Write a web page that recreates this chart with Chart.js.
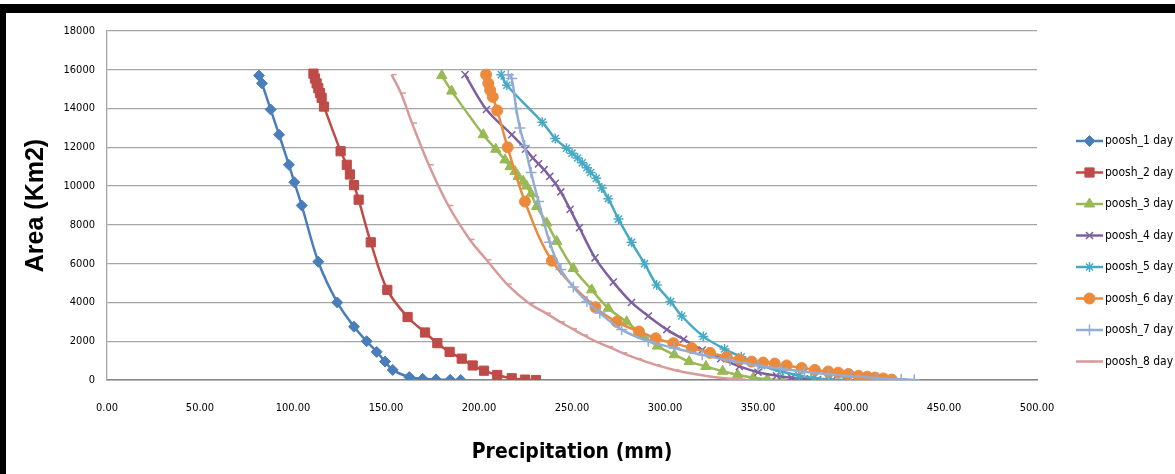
<!DOCTYPE html>
<html>
<head>
<meta charset="utf-8">
<script src="https://cdn.jsdelivr.net/npm/chart.js@4.4.0/dist/chart.umd.min.js"></script>
<style>
  html, body { margin: 0; padding: 0; background: #fff; }
  #wrap { position: relative; width: 1175px; height: 474px; overflow: hidden; }
  #chart { position: absolute; left: 0; top: 0; }
  #frameTop { position: absolute; left: 0; top: 4px; width: 1175px; height: 9px; background: #000; }
  #frameLeft { position: absolute; left: 0; top: 4px; width: 6px; height: 470px; background: #000; }
</style>
</head>
<body>
<div id="wrap">
  <canvas id="chart" width="1175" height="474"></canvas>
  <div id="frameTop"></div>
  <div id="frameLeft"></div>
</div>
<script>
// series names
const seriesLabels = ['poosh_1 day', 'poosh_2 day', 'poosh_3 day', 'poosh_4 day',
                      'poosh_5 day', 'poosh_6 day', 'poosh_7 day', 'poosh_8 day']

// precipitation (mm) / area (km2)
const poosh1Precip = [81.7, 83.3, 88.0, 92.5, 97.8, 100.7, 104.7, 113.6, 123.8, 132.8, 139.6, 145.0, 149.5, 153.6, 162.5, 169.7, 176.9, 184.5, 190.2]
const poosh1Area   = [15700, 15300, 13950, 12650, 11100, 10200, 9000, 6100, 4000, 2750, 2000, 1450, 950, 520, 150, 60, 30, 10, 0]

const poosh2Precip = [111.0, 111.8, 112.7, 113.6, 114.5, 115.4, 116.7, 125.6, 128.9, 130.6, 132.8, 135.3, 141.8, 150.7, 161.6, 171.0, 177.6, 184.2, 190.7, 196.6, 202.7, 209.8, 217.6, 224.7, 230.6]
const poosh2Area   = [15800, 15550, 15300, 15050, 14800, 14550, 14100, 11800, 11100, 10600, 10050, 9300, 7100, 4650, 3250, 2450, 1900, 1450, 1100, 750, 480, 260, 90, 20, 0]

const poosh3Precip = [180.0, 185.3, 202.3, 209.0, 214.0, 216.7, 219.4, 221.1, 223.8, 225.6, 228.0, 231.0, 236.4, 241.8, 250.7, 260.6, 269.5, 279.4, 288.0, 296.0, 305.0, 313.0, 322.0, 331.0, 339.0, 347.5, 355.0, 363.0]
const poosh3Area   = [15700, 14900, 12650, 11900, 11350, 11000, 10750, 10500, 10250, 10000, 9600, 8950, 8100, 7150, 5750, 4650, 3700, 3000, 2300, 1750, 1300, 950, 700, 450, 270, 120, 40, 0]

const poosh4Precip = [192.5, 204.0, 217.6, 225.0, 229.0, 232.0, 235.0, 238.0, 241.0, 244.0, 249.0, 254.0, 262.4, 272.2, 282.0, 291.0, 301.0, 310.0, 320.0, 330.0, 340.0, 350.0, 360.0, 368.0, 375.0, 382.0, 390.0]
const poosh4Area   = [15750, 13950, 12650, 11900, 11450, 11150, 10850, 10500, 10150, 9700, 8800, 7850, 6300, 5050, 4000, 3300, 2600, 2100, 1550, 1100, 700, 400, 220, 120, 60, 20, 0]

const poosh5Precip = [212.0, 215.0, 234.0, 241.0, 247.0, 250.0, 253.0, 255.5, 258.0, 260.0, 263.0, 266.0, 269.5, 275.0, 282.0, 289.0, 295.5, 303.0, 309.0, 320.6, 332.0, 341.0, 352.0, 362.0, 372.0, 380.0, 388.0, 397.0]
const poosh5Area   = [15750, 15200, 13300, 12450, 11950, 11700, 11450, 11200, 10950, 10700, 10400, 9900, 9350, 8300, 7100, 6000, 4900, 4050, 3300, 2250, 1600, 1200, 750, 450, 230, 100, 30, 0]

const poosh6Precip = [203.8, 205.0, 206.0, 207.4, 209.8, 215.4, 224.7, 239.2, 262.6, 274.0, 286.0, 295.0, 304.5, 314.4, 324.2, 333.2, 340.0, 346.6, 352.8, 359.0, 365.4, 373.5, 380.6, 387.8, 393.2, 398.6, 404.0, 408.8, 412.9, 417.4, 421.9]
const poosh6Area   = [15750, 15300, 14950, 14600, 13900, 12000, 9200, 6150, 3750, 3000, 2500, 2150, 1900, 1650, 1400, 1200, 1050, 950, 900, 850, 750, 620, 520, 440, 380, 310, 220, 170, 130, 80, 20]

const poosh7Precip = [215.8, 217.6, 220.0, 222.0, 224.5, 228.0, 232.0, 238.0, 244.0, 250.7, 258.0, 265.0, 276.7, 291.0, 305.0, 320.0, 335.0, 350.0, 362.0, 375.0, 388.0, 400.0, 414.0, 427.0, 434.0]
const poosh7Area   = [15750, 15550, 14000, 13000, 12100, 10700, 9200, 7100, 5700, 4800, 4050, 3450, 2600, 2000, 1650, 1300, 1000, 750, 580, 430, 300, 200, 100, 40, 0]

const poosh8Precip = [153.0, 158.0, 164.0, 173.0, 183.5, 195.0, 204.0, 215.0, 227.0, 236.0, 243.5, 250.0, 256.0, 263.0, 269.5, 277.0, 285.0, 295.0, 305.0, 315.0, 325.0, 335.0, 343.0]
const poosh8Area   = [15750, 14800, 13250, 11100, 9000, 7250, 6200, 4950, 3950, 3450, 3000, 2650, 2320, 1980, 1720, 1400, 1100, 780, 520, 320, 170, 70, 20]

// axis ticks
const xTickStep = 50
const yTickStep = 2000

const precipSeries = [poosh1Precip, poosh2Precip, poosh3Precip, poosh4Precip, poosh5Precip, poosh6Precip, poosh7Precip, poosh8Precip]
const areaSeries = [poosh1Area, poosh2Area, poosh3Area, poosh4Area, poosh5Area, poosh6Area, poosh7Area, poosh8Area]

const colors = ['#4A7EBB', '#BE4B48', '#98B954', '#7D60A0', '#46AAC5', '#EC8A3C', '#93ACD4', '#D69A99']
const markers = ['rectRot', 'rect', 'triangle', 'crossRot', 'star', 'circle', 'cross', 'dash']
const markerSize = [5.5, 6.5, 6, 5, 5, 5.5, 5.5, 5]

const narrow = "'Liberation Sans Narrow', 'DejaVu Sans Condensed', 'Arial Narrow', sans-serif"

const datasets = seriesLabels.map((label, i) => {
  const stroked = ['crossRot', 'star', 'cross', 'dash'].includes(markers[i])
  return {
    label: label,
    data: precipSeries[i].map((x, j) => ({x: x, y: areaSeries[i][j]})),
    showLine: true,
    tension: 0.35,
    borderColor: colors[i],
    borderWidth: 2.5,
    backgroundColor: colors[i],
    pointStyle: markers[i],
    pointRadius: markerSize[i],
    pointBackgroundColor: colors[i],
    pointBorderColor: colors[i],
    pointBorderWidth: stroked ? 1.5 : 1,
    order: seriesLabels.length - i
  }
})

// legend on the right: short line with the marker, then the name
const legendTop = 141
const legendStep = 31.5
const sideLegend = {
  id: 'sideLegend',
  afterDraw(chart){
    const ctx = chart.ctx
    chart.data.datasets.forEach((ds, i) => {
      const y = legendTop + i * legendStep
      ctx.save()
      ctx.strokeStyle = ds.borderColor
      ctx.lineWidth = 2.5
      ctx.beginPath()
      ctx.moveTo(1076, y)
      ctx.lineTo(1103, y)
      ctx.stroke()
      ctx.fillStyle = ds.pointBackgroundColor
      ctx.strokeStyle = ds.pointBorderColor
      ctx.lineWidth = ds.pointBorderWidth
      if (Chart.helpers && Chart.helpers.drawPoint) {
        Chart.helpers.drawPoint(ctx, {
          pointStyle: ds.pointStyle,
          radius: ds.pointRadius,
          rotation: 0,
          borderWidth: ds.pointBorderWidth
        }, 1089.5, y)
      }
      ctx.fillStyle = '#000'
      ctx.font = '12px ' + narrow
      ctx.textAlign = 'left'
      ctx.textBaseline = 'middle'
      ctx.fillText(ds.label, 1105, y)
      ctx.restore()
    })
  }
}

new Chart(document.getElementById('chart'), {
  type: 'scatter',
  data: {datasets: datasets},
  plugins: [sideLegend],
  options: {
    responsive: false,
    animation: false,
    layout: {padding: {left: 0, right: 138, top: 31, bottom: 0}},
    plugins: {
      legend: {display: false},
      tooltip: {enabled: false}
    },
    scales: {
      x: {
        type: 'linear',
        min: 0,
        max: 500,
        ticks: {
          stepSize: xTickStep,
          padding: 22,
          color: '#000',
          font: {family: narrow, size: 11},
          callback: v => v.toFixed(2)
        },
        grid: {display: false, drawTicks: false},
        border: {display: true, color: '#868686', width: 1.5},
        title: {
          display: true,
          text: 'Precipitation (mm)',
          color: '#000',
          font: {family: narrow, size: 21, weight: 'bold'},
          padding: {top: 0, bottom: 9}
        },
        afterFit: s => { s.height = 94 }
      },
      y: {
        min: 0,
        max: 18000,
        ticks: {
          stepSize: yTickStep,
          padding: 12,
          color: '#000',
          font: {family: narrow, size: 11},
          callback: v => String(v)
        },
        grid: {color: '#a5a5a5', lineWidth: 1.3, drawTicks: false},
        border: {display: true, color: '#a5a5a5', width: 1.3},
        title: {
          display: true,
          text: 'Area (Km2)',
          color: '#000',
          font: {family: "'Liberation Sans', Arial, sans-serif", size: 25, weight: 'bold'},
          padding: {top: 21, bottom: 0}
        },
        afterFit: s => { s.width = 107 }
      }
    }
  }
})
</script>
</body>
</html>
